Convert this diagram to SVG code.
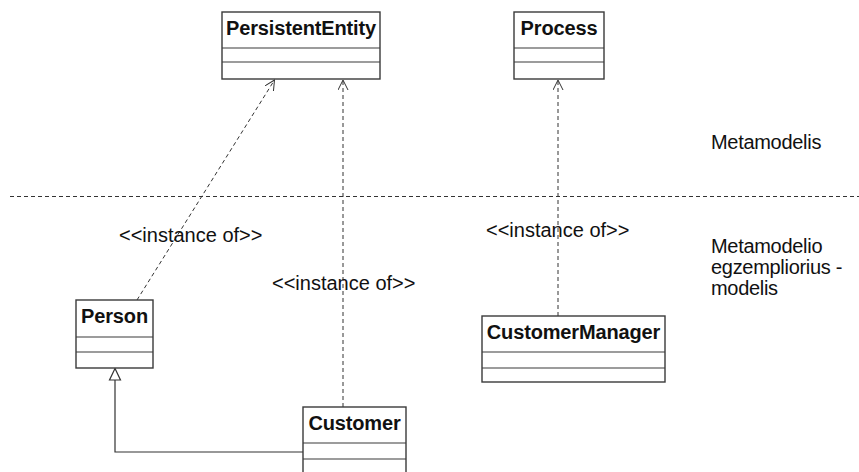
<svg xmlns="http://www.w3.org/2000/svg" width="859" height="472" viewBox="0 0 859 472">
  <style>
    .box { fill: #ffffff; stroke: #3a3a3a; stroke-width: 1.4; }
    .sep { stroke: #3a3a3a; stroke-width: 1.2; }
    .name { font-family: "Liberation Sans", Arial, sans-serif; font-weight: bold; font-size: 20px; fill: #111; letter-spacing: -0.15px; text-anchor: middle; }
    .label { font-family: "Liberation Sans", Arial, sans-serif; font-size: 20px; fill: #111; }
    .dash { fill: none; stroke: #333; stroke-width: 1; stroke-dasharray: 4 3; }
    .solid { fill: none; stroke: #333; stroke-width: 1.2; }
  </style>
  <defs>
    <marker id="open" markerWidth="12" markerHeight="12" refX="10" refY="5" orient="auto" markerUnits="userSpaceOnUse">
      <path d="M0,0 L10,5 L0,10" fill="none" stroke="#333" stroke-width="1"/>
    </marker>
  </defs>

  <!-- layer divider -->
  <line class="dash" x1="10" y1="196.5" x2="859" y2="196.5"/>
  <text class="label" x="711" y="149" letter-spacing="-0.3">Metamodelis</text>
  <text class="label" x="711" y="253" letter-spacing="-0.3">Metamodelio</text>
  <text class="label" x="711" y="274" letter-spacing="-0.3">egzempliorius -</text>
  <text class="label" x="711" y="295" letter-spacing="-0.3">modelis</text>

  <g id="connectors">
    <line class="dash" x1="137" y1="300" x2="274.5" y2="80" marker-end="url(#open)"/>
    <line class="dash" x1="343" y1="407" x2="343" y2="80" marker-end="url(#open)"/>
    <line class="dash" x1="558" y1="316" x2="558" y2="80" marker-end="url(#open)"/>
    <polyline class="solid" points="303,452 115,452 115,380"/>
    <polygon points="115,368.5 109.5,380 120.5,380" fill="#fff" stroke="#333" stroke-width="1.2"/>
    <text class="label" x="119" y="242">&lt;&lt;instance of&gt;&gt;</text>
    <text class="label" x="272" y="290">&lt;&lt;instance of&gt;&gt;</text>
    <text class="label" x="486" y="237">&lt;&lt;instance of&gt;&gt;</text>
  </g>

  <g id="PersistentEntity">
    <rect class="box" x="222" y="12" width="158" height="67"/>
    <line class="sep" x1="222" y1="48" x2="380" y2="48"/>
    <line class="sep" x1="222" y1="62" x2="380" y2="62"/>
    <text class="name" x="301" y="35">PersistentEntity</text>
  </g>

  <g id="Process">
    <rect class="box" x="514" y="12" width="90" height="67"/>
    <line class="sep" x1="514" y1="48" x2="604" y2="48"/>
    <line class="sep" x1="514" y1="62" x2="604" y2="62"/>
    <text class="name" x="559" y="35">Process</text>
  </g>

  <g id="Person">
    <rect class="box" x="76" y="300" width="77" height="68"/>
    <line class="sep" x1="76" y1="337" x2="153" y2="337"/>
    <line class="sep" x1="76" y1="352" x2="153" y2="352"/>
    <text class="name" x="114.5" y="323">Person</text>
  </g>

  <g id="CustomerManager">
    <rect class="box" x="482" y="316" width="183" height="66"/>
    <line class="sep" x1="482" y1="352" x2="665" y2="352"/>
    <line class="sep" x1="482" y1="368" x2="665" y2="368"/>
    <text class="name" x="573.5" y="339">CustomerManager</text>
  </g>

  <g id="Customer">
    <rect class="box" x="303" y="407" width="103" height="70"/>
    <line class="sep" x1="303" y1="443" x2="406" y2="443"/>
    <line class="sep" x1="303" y1="459" x2="406" y2="459"/>
    <text class="name" x="354.5" y="430">Customer</text>
  </g>
</svg>
